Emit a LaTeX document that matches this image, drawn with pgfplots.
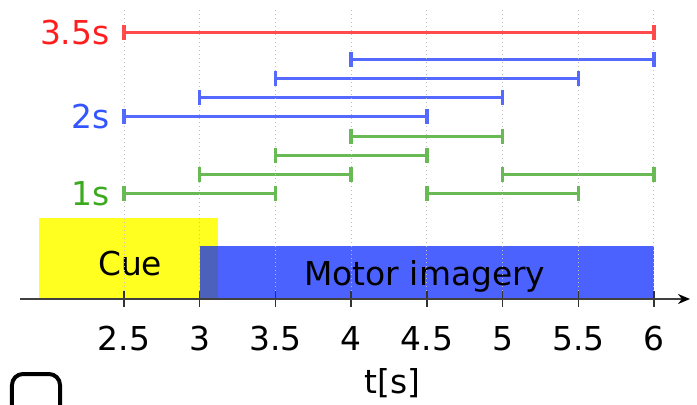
\documentclass[border=0pt]{standalone}
\usepackage{pgfplots}
\pgfplotsset{compat=1.18}
\usepackage{fontspec}
\setmainfont{DejaVu Sans}
\usetikzlibrary{arrows.meta}
\definecolor{lred}{RGB}{255,75,75}
\definecolor{lblue}{RGB}{85,105,255}
\definecolor{lgreen}{RGB}{105,185,85}
\definecolor{tred}{RGB}{255,30,30}
\definecolor{tblue}{RGB}{50,85,255}
\definecolor{tgreen}{RGB}{60,170,30}
\definecolor{cueyellow}{RGB}{255,255,32}
\definecolor{mblue}{RGB}{0,31,255}
\newcommand{\bigf}{\fontsize{33}{40}\selectfont}
\pgfplotsset{win/.style={line width=3bp, mark=|, mark size=7.5bp, mark options={line width=3.4bp}}}
\begin{document}
\begin{tikzpicture}
\begin{axis}[
  axis on top,
  scale only axis, width=670bp, height=291bp,
  xmin=1.813, xmax=6.238, ymin=0, ymax=291,
  axis x line=bottom, axis y line=none,
  clip=false,
  axis line style={draw=black!75, line width=1.6bp, -{Stealth[length=12bp,width=10bp,black]}},
  xtick={2.5,3,3.5,4,4.5,5,5.5,6},
  xticklabels={2.5,3,3.5,4,4.5,5,5.5,6},
  xtick align=center, major tick length=15bp,
  xtick style={draw=black!80, line width=1.4bp},
  xmajorgrids, grid style={black!25, dash pattern=on 1bp off 3bp, line width=1bp},
  xticklabel style={font=\bigf, anchor=base, yshift=-44bp},
  /pgf/number format/assume math mode=true,
  xlabel={t[s]},
  xlabel style={font=\bigf, at={(rel axis cs:0.556,0)}, anchor=base, yshift=-94bp},
]
% cue and motor imagery blocks
\addplot[draw=none, fill=cueyellow] coordinates {(1.94,0) (3.12,0) (3.12,81) (1.94,81)} -- cycle;
\addplot[draw=none, fill=mblue, fill opacity=0.7] coordinates {(3,0) (6,0) (6,53) (3,53)} -- cycle;
% 3.5 s window
\addplot[lred, win] coordinates {(2.5,266) (6,266)};
% 2 s windows
\addplot[lblue, win] coordinates {(4,239) (6,239)};
\addplot[lblue, win] coordinates {(3.5,220) (5.5,220)};
\addplot[lblue, win] coordinates {(3,201) (5,201)};
\addplot[lblue, win] coordinates {(2.5,182) (4.5,182)};
% 1 s windows
\addplot[lgreen, win] coordinates {(4,162) (5,162)};
\addplot[lgreen, win] coordinates {(3.5,143) (4.5,143)};
\addplot[lgreen, win] coordinates {(3,124) (4,124)};
\addplot[lgreen, win] coordinates {(5,124) (6,124)};
\addplot[lgreen, win] coordinates {(2.5,105) (3.5,105)};
\addplot[lgreen, win] coordinates {(4.5,105) (5.5,105)};
% labels
\node[anchor=east, inner sep=0pt, text=tred, font=\bigf] at (axis cs:2.405,266) {3.5s};
\node[anchor=east, inner sep=0pt, text=tblue, font=\bigf] at (axis cs:2.405,182) {2s};
\node[anchor=east, inner sep=0pt, text=tgreen, font=\bigf] at (axis cs:2.405,105) {1s};
\node[anchor=base, inner sep=0pt, font=\bigf] at (axis cs:2.54,24) {Cue};
\node[anchor=base, inner sep=0pt, font=\bigf] at (axis cs:4.487,14) {Motor imagery};
\end{axis}
\draw[black, line width=4bp, rounded corners=11bp] (-8bp,-140bp) -- (-8bp,-75bp) -- (40bp,-75bp) -- (40bp,-140bp);
\pgfresetboundingbox
\path[use as bounding box] (-20bp,-106bp) rectangle (677bp,299bp);
\end{tikzpicture}
\end{document}
